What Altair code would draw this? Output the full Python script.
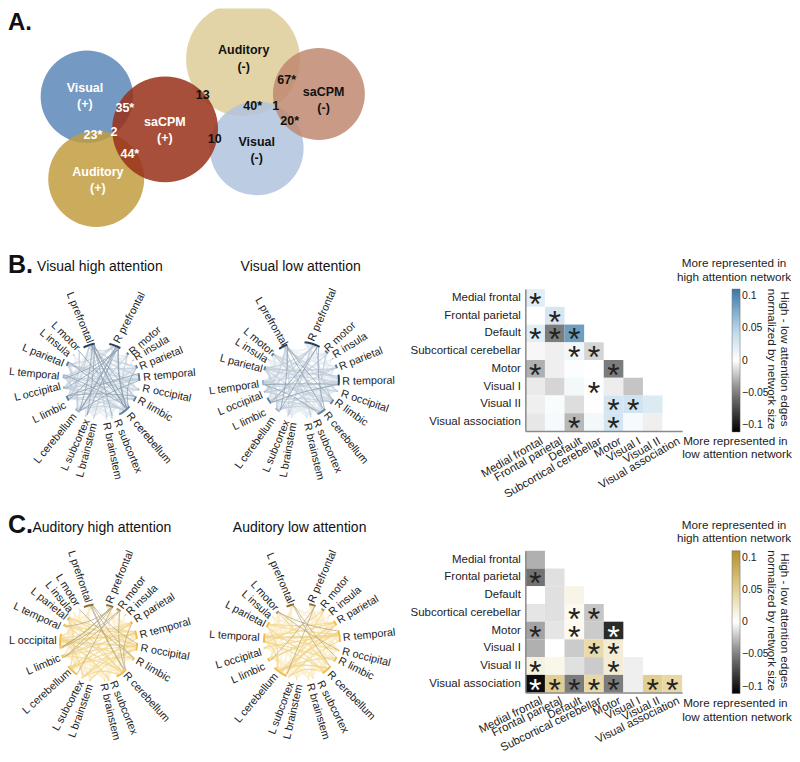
import math
import altair as alt
import pandas as pd

FONT = "Liberation Sans"
INK = "#222222"

# ---------- Venn data (panel A) ----------
venn_names = ["Auditory-", "Visual-", "saCPM-", "Visual+", "Auditory+", "saCPM+"]
venn_x = [243.3, 257, 319.3, 87, 96.3, 165.3]
venn_y = [58.7, 148, 93.7, 96.3, 178.7, 129]
venn_r = [57, 47, 46, 46.3, 48, 53]
venn_colors = ["#decd99", "#b0c3dd", "#c08870", "#5c87b7", "#c29c3f", "#993019"]

venn_text = ["Visual", "(+)", "Auditory", "(-)", "saCPM", "(-)", "saCPM", "(+)", "Visual", "(-)", "Auditory", "(+)",
             "35*", "23*", "2", "44*", "13", "10", "40*", "1", "67*", "20*"]
venn_tx = [85, 85, 244, 244, 324, 324, 165, 165, 257, 257, 98, 98,
           125, 93, 114, 130, 203, 215, 253, 276, 287, 290]
venn_ty = [87.3, 103.7, 50, 66.7, 92, 108, 122, 138, 142, 158, 172, 188,
           108, 135, 132, 154, 95, 139, 106, 106, 80, 121]
venn_tc = ["#ffffff", "#ffffff", "#111111", "#111111", "#111111", "#111111", "#ffffff", "#ffffff", "#111111", "#111111", "#ffffff", "#ffffff",
           "#ffffff", "#ffffff", "#ffffff", "#ffffff", "#111111", "#111111", "#111111", "#111111", "#111111", "#111111"]

# ---------- Heat map data ----------
networks = ["Medial frontal", "Frontal parietal", "Default", "Subcortical cerebellar",
            "Motor", "Visual I", "Visual II", "Visual association"]
tick_values = [-0.1, -0.05, 0, 0.05, 0.1]

heat_b = [
    [0.02],
    [0.0, 0.028],
    [0.02, -0.05, 0.085],
    [-0.003, -0.006, 0.01, -0.016],
    [-0.03, -0.006, 0.002, 0.0, -0.05],
    [-0.008, -0.016, 0.008, 0.002, -0.007, -0.022],
    [-0.006, 0.004, -0.013, 0.001, 0.03, 0.032, 0.024],
    [-0.009, 0.006, -0.027, 0.008, 0.03, 0.006, -0.006, 0.0],
]
star_b = [
    [1],
    [0, 1],
    [1, 1, 1],
    [0, 0, 1, 1],
    [1, 0, 0, 0, 1],
    [0, 0, 0, 1, 0, 0],
    [0, 0, 0, 0, 1, 1, 0],
    [0, 0, 1, 0, 1, 0, 0, 0],
]
heat_c = [
    [-0.03],
    [-0.055, -0.012],
    [0.0, -0.012, 0.012],
    [-0.01, -0.012, 0.007, -0.022],
    [-0.035, -0.01, 0.007, -0.02, -0.09],
    [-0.03, 0.0, -0.02, 0.04, 0.02, 0.0],
    [0.015, 0.01, -0.012, -0.02, 0.02, -0.006, 0.0],
    [-0.105, 0.052, -0.05, 0.042, -0.05, -0.006, 0.052, 0.042],
]
star_c = [
    [0],
    [1, 0],
    [0, 0, 0],
    [0, 0, 1, 1],
    [1, 0, 1, 0, 1],
    [0, 0, 0, 1, 1, 0],
    [1, 0, 0, 0, 1, 0, 0],
    [1, 1, 1, 1, 1, 0, 1, 1],
]

# ---------- Chord data ----------
nodes = ["R prefrontal", "R motor", "R insula", "R parietal", "R temporal", "R occipital", "R limbic",
         "R cerebellum", "R subcortex", "R brainstem", "L brainstem", "L subcortex", "L cerebellum",
         "L limbic", "L occipital", "L temporal", "L parietal", "L insula", "L motor", "L prefrontal"]

bh_theta = [21, 44, 57, 68, 84, 103, 118, 142, 164, 172, 192, 204, 219, 243, 260, 277, 297, 313, 323, 341]
bh_span = [18, 4, 1.5, 5, 12, 3, 8, 20, 3, 1.5, 1.5, 3, 8, 8, 4, 6, 7, 1.5, 1.5, 18]
bh_shade = [3, 2, 1, 2, 2, 1, 2, 2, 0, 0, 0, 0, 1, 2, 1, 1, 2, 1, 1, 3]
bh_near = [(350,278),(393,310),(405,325),(420,352),(430,383),(428,415),(415,450),(385,492),(350,510),(318,518),
           (283,520),(262,510),(225,495),(197,465),(182,410),(178,380),(190,342),(207,315),(235,298),(270,278)]
bh_far = [(432,122),(480,235),(512,262),(552,298),(588,368),(575,447),(520,510),(510,640),(418,672),(355,690),
          (240,682),(190,668),(108,638),(100,512),(40,445),(28,365),(65,290),(118,240),(150,212),(205,120)]

bl_theta = [17.5, 42.5, 56, 69, 90, 107, 125, 147, 165, 171, 194, 200, 218, 237, 252, 266, 288, 302, 312, 332]
bl_span = [24, 6, 1.5, 6, 16, 2, 8, 14, 2, 1.5, 1.5, 2, 8, 10, 3, 8, 6, 1.5, 5, 14]
bl_shade = [3, 2, 1, 2, 3, 1, 2, 2, 0, 0, 0, 0, 1, 2, 1, 1, 2, 1, 2, 3]
bl_near = [(305,272),(350,300),(372,318),(390,352),(398,395),(395,430),(378,455),(348,490),(318,510),(292,520),
           (252,518),(232,512),(192,505),(168,487),(158,435),(148,403),(158,358),(172,332),(188,310),(225,285)]
bl_far = [(375,112),(438,218),(473,255),(520,300),(555,392),(535,478),(475,525),(470,640),(388,668),(332,688),
          (222,682),(168,668),(88,648),(78,530),(22,490),(-5,425),(22,322),(65,265),(95,232),(135,130)]

ch_theta = [17, 31.5, 44, 59, 78, 96, 115, 143, 165, 171, 193, 205, 223, 249, 272, 297, 309, 320, 330, 345]
ch_span = [11, 7, 1.5, 5, 13, 12, 5, 18, 3, 1.5, 3, 3, 18, 5, 22, 4, 6, 1.5, 1.5, 15]
ch_shade = [3, 2, 1, 1, 1, 1, 1, 1, 0, 0, 0, 0, 1, 1, 1, 1, 1, 0, 0, 3]
ch_near = [(328,280),(362,295),(385,312),(405,332),(420,378),(422,415),(410,452),(375,492),(338,515),(310,522),
           (272,525),(245,515),(210,485),(180,445),(170,395),(180,352),(198,325),(212,305),(232,288),(265,278)]
ch_far = [(395,118),(435,200),(472,228),(525,258),(575,335),(568,442),(510,510),(505,635),(405,678),(350,692),
          (215,685),(165,665),(65,615),(75,490),(25,395),(35,285),(88,235),(135,212),(170,190),(210,115)]

cl_theta = [16, 33.5, 47, 61, 82, 104, 118, 139, 163, 170, 188, 200, 215, 241, 260, 275, 296, 310, 320, 342]
cl_span = [10, 5, 1.5, 8, 18, 2, 8, 16, 2, 1.5, 1.5, 2, 22, 5, 2, 14, 9, 1.5, 5, 12]
cl_shade = [3, 2, 1, 1, 1, 1, 1, 1, 0, 0, 0, 0, 1, 1, 1, 1, 1, 0, 2, 3]
cl_near = [(305,278),(340,292),(362,312),(385,335),(400,385),(398,425),(388,452),(358,490),(330,515),(300,522),
           (270,525),(245,518),(200,495),(165,470),(155,428),(150,385),(165,345),(182,322),(200,300),(243,280)]
cl_far = [(375,118),(415,200),(457,232),(510,262),(560,368),(545,462),(495,505),(495,630),(408,668),(350,690),
          (232,690),(185,678),(78,640),(65,515),(15,470),(-5,375),(42,280),(92,242),(122,212),(175,122)]

bh_strong = [(19,7),(19,7),(19,12),(0,12),(0,13),(0,12),(0,11),(19,6),(19,8),(0,7),(0,7),(16,7),(15,7),(13,4),(13,6),
             (0,14),(18,7),(3,7),(4,12),(0,15),(19,7),(19,11)]
bh_medium = [(19,4),(19,5),(19,13),(19,14),(0,16),(0,15),(1,7),(1,12),(3,12),(4,13),(4,14),(4,16),(5,15),(6,12),(6,13),
             (6,14),(7,12),(7,13),(7,14),(7,15),(12,16),(12,15),(13,15),(14,16),(4,15),(3,16),(19,0),(19,3),(19,9),(0,10),
             (18,13),(16,6)]
bh_light = [(0,1),(0,3),(0,4),(0,5),(0,6),(0,8),(0,9),(1,3),(1,4),(3,4),(3,5),(3,6),(4,5),(4,6),(4,7),(5,6),(5,7),(6,7),
            (7,8),(7,9),(7,10),(7,11),(8,12),(8,13),(9,12),(10,13),(11,13),(11,12),(10,12),(12,13),(12,14),(13,14),(13,16),
            (14,15),(15,16),(16,18),(16,19),(15,19),(14,19),(13,19),(12,19),(11,19),(10,19),(4,11),(4,12),(5,12),(5,13),
            (5,14),(6,15),(6,16),(3,13),(3,14),(3,15),(1,13),(1,15),(2,7),(17,7),(17,13),(8,4),(9,4),(10,4),(11,6),
            (14,4),(15,4),(16,4),(13,3),(12,3),(14,5),(15,5),(16,5)]

bl_strong = [(0,12),(19,7),(19,6),(0,13),(4,15),(4,13),(7,15),(0,7),(19,12)]
bl_medium = [(19,4),(19,8),(19,11),(19,14),(0,11),(0,14),(0,15),(0,16),(1,7),(1,13),(3,13),(3,15),(3,16),(4,14),(4,16),
             (4,12),(5,15),(6,12),(6,13),(6,15),(7,12),(7,13),(7,14),(7,16),(12,16),(12,15),(13,15),(14,16),(18,7),(18,4),
             (16,4),(15,6),(19,5),(0,6),(18,6)]
bl_light = [(0,1),(0,3),(0,4),(0,5),(0,8),(0,9),(0,10),(1,3),(1,4),(1,6),(3,4),(3,5),(3,6),(3,7),(3,12),(3,14),(4,5),(4,6),
            (4,7),(4,8),(4,9),(4,10),(4,11),(5,6),(5,7),(5,12),(6,7),(6,14),(6,16),(7,8),(7,9),(7,10),(7,11),(8,12),(8,13),
            (9,12),(10,13),(11,13),(11,12),(10,12),(12,13),(12,14),(13,14),(13,16),(14,15),(15,16),(16,18),(16,19),(15,19),
            (14,19),(13,19),(12,19),(10,19),(9,19),(18,15),(18,13),(18,12),(2,7),(17,7),(17,13),(2,15),(17,4),(19,3),(19,1),
            (19,0),(1,15),(1,16),(5,13),(5,14),(5,16),(6,18)]

ch_strong = [(0,14),(0,14),(0,13),(0,12),(19,7),(19,7),(19,6),(1,14),(1,13),(0,15),(1,7),(19,5),(3,7),(18,6)]
ch_medium = [(14,5),(14,5),(14,4),(14,4),(14,6),(14,7),(13,5),(13,4),(12,4),(12,5),(12,3),(12,16),(15,5),(15,4),(16,7),
             (16,4),(16,5),(15,7),(14,3),(14,8),(14,11),(13,7),(12,6),(4,11),(5,11),(5,10),(7,11),(3,14),(3,13),(14,16)]
ch_light = [(0,1),(0,3),(0,4),(0,5),(0,6),(0,7),(0,8),(0,10),(1,3),(1,4),(1,5),(1,6),(3,4),(3,5),(3,6),(4,5),(4,6),(4,7),
            (5,6),(5,7),(6,7),(7,8),(7,9),(7,10),(7,12),(8,12),(8,13),(9,12),(9,14),(10,13),(10,14),(11,13),(11,14),(11,12),
            (10,12),(12,13),(12,14),(12,15),(13,14),(13,16),(14,15),(15,16),(16,18),(16,19),(15,19),(14,19),(13,19),(12,19),
            (11,19),(10,19),(14,18),(14,17),(12,18),(2,7),(17,7),(17,13),(8,4),(9,4),(10,4),(11,6),(8,14),(9,5),(16,14)]

cl_strong = [(0,12),(19,7),(19,6),(18,4),(18,5),(0,13)]
cl_medium = [(15,4),(15,4),(15,4),(15,3),(15,5),(16,4),(16,3),(14,4),(13,4),(12,4),(12,4),(12,3),(12,6),(12,7),(12,7),(12,16),
             (12,15),(7,15),(7,16),(7,11),(6,15),(4,11),(3,13),(3,12),(1,15),(1,12),(18,7)]
cl_light = [(0,1),(0,3),(0,4),(0,5),(0,6),(0,7),(0,8),(0,10),(0,15),(1,3),(1,4),(1,7),(3,4),(3,5),(3,6),(3,7),(4,5),(4,6),(4,7),
            (4,8),(4,9),(5,6),(5,7),(6,7),(7,8),(7,9),(7,10),(8,12),(8,13),(9,12),(10,13),(11,13),(11,12),(10,12),(12,13),
            (12,14),(13,14),(13,16),(14,15),(15,16),(16,18),(16,19),(15,19),(14,19),(13,19),(12,19),(11,19),(10,19),(18,15),
            (18,13),(18,12),(2,7),(17,7),(17,13),(2,15),(17,4),(19,3),(19,1),(8,15),(9,15),(10,3),(11,4),(14,6),(16,5),(15,6)]

BLUE_ARC = ["#c4d5e4", "#9db6cd", "#5f80a0", "#24405c"]
BLUE_LINK = ["#e2e9f0", "#c0ccd8", "#8a9cad"]
GOLD_ARC = ["#f7dc9a", "#f2bd45", "#a9914f", "#8a7235"]
GOLD_LINK = ["#fbecc6", "#f3d68c", "#b5a679"]
LINK_W = [1.4, 1.3, 1.0]


def page(pt, ox, oy):
    return ox + pt[0] / 3, oy + pt[1] / 3


def chord(cx, cy, r, theta, span, shade, near, far, strong, medium, light, zx, zy,
          x0, y0, w, h, arc_cols, link_cols, ann):
    xe = alt.Scale(domain=[x0, x0 + w], nice=False, zero=False)
    ye = alt.Scale(domain=[y0 + h, y0], nice=False, zero=False)
    X = alt.X("x:Q", scale=xe, axis=None)
    Y = alt.Y("y:Q", scale=ye, axis=None)

    tiers = [(0, light), (1, medium), (2, strong)]
    counts = [0] * 20
    for _, ls in tiers:
        for a, b in ls:
            counts[a] += 1
            counts[b] += 1
    seen = [0] * 20

    def end(n, flip):
        k = seen[n]
        seen[n] += 1
        f = (k + 0.5) / max(counts[n], 1) - 0.5
        t = math.radians(theta[n] + (-f if flip else f) * span[n])
        return cx + r * 0.97 * math.sin(t), cy - r * 0.97 * math.cos(t)

    rows = []
    idn = 0
    for tier, ls in tiers:
        for a, b in ls:
            p0, p2 = end(a, False), end(b, True)
            mx, my = (p0[0] + p2[0]) / 2, (p0[1] + p2[1]) / 2
            c = (cx + 0.8 * (mx - cx), cy + 0.8 * (my - cy))
            for o, p in enumerate([p0, c, p2]):
                rows.append({"x": p[0], "y": p[1], "o": o, "id": idn, "c": link_cols[tier], "w": LINK_W[tier]})
            idn += 1
    links = alt.Chart(pd.DataFrame(rows)).mark_line(interpolate="basis", opacity=0.75).encode(
        x=X, y=Y, order="o:Q", detail="id:N",
        color=alt.Color("c:N", scale=None),
        strokeWidth=alt.StrokeWidth("w:Q", scale=None))

    arc_rows = []
    for n in range(20):
        for o, f in enumerate([-0.5, -0.25, 0, 0.25, 0.5]):
            t = math.radians(theta[n] + f * span[n])
            arc_rows.append({"x": cx + r * math.sin(t), "y": cy - r * math.cos(t), "o": o, "id": n, "c": arc_cols[shade[n]]})
    arcs = alt.Chart(pd.DataFrame(arc_rows)).mark_line(strokeWidth=2).encode(
        x=X, y=Y, order="o:Q", detail="id:N", color=alt.Color("c:N", scale=None))

    lab = []
    for n in range(20):
        nx, ny = page(near[n], zx, zy)
        fx, fy = page(far[n], zx, zy)
        if n < 10:
            ang = math.degrees(math.atan2(fy - ny, fx - nx))
        else:
            ang = math.degrees(math.atan2(ny - fy, nx - fx))
        lab.append({"x": nx, "y": ny, "a": ang % 360, "t": nodes[n], "side": "R" if n < 10 else "L"})
    lab = pd.DataFrame(lab)
    lr = alt.Chart(lab[lab.side == "R"]).mark_text(align="left", baseline="middle", font=FONT, fontSize=10.8, color=INK).encode(
        x=X, y=Y, text="t:N", angle=alt.Angle("a:Q", scale=None))
    ll = alt.Chart(lab[lab.side == "L"]).mark_text(align="right", baseline="middle", font=FONT, fontSize=10.8, color=INK).encode(
        x=X, y=Y, text="t:N", angle=alt.Angle("a:Q", scale=None))

    layers = [links, arcs, lr, ll]
    for a in ann:
        layers.append(alt.Chart(pd.DataFrame([a])).mark_text(
            align=a["al"], baseline=a["bl"], font=FONT, fontSize=a["fs"], fontWeight=a["fw"], color="#111111").encode(
            x=X, y=Y, text="t:N"))
    return alt.layer(*layers).properties(width=w, height=h)


def heat(values, stars, y_top, plot_h, x_extent, stops, y_text, lab_angle, lab_pad):
    rows = []
    for i, row in enumerate(values):
        for j, v in enumerate(row):
            rows.append({"r": networks[i], "c": networks[j], "v": v, "s": stars[i][j]})
    df = pd.DataFrame(rows)
    x = alt.X("c:N", sort=networks, scale=alt.Scale(domain=networks, range=[0, 157], paddingInner=0, paddingOuter=0),
              axis=alt.Axis(title=None, ticks=False, labelAngle=lab_angle, labelAlign="right", labelBaseline="top",
                            labelPadding=lab_pad, labelOffset=4, labelFont=FONT, labelFontSize=11.5, labelColor=INK, labelLimit=200,
                            labelOverlap=False, domainColor="#8a8a8a", domainWidth=1.5, grid=False,
                            minExtent=x_extent, maxExtent=x_extent))
    y = alt.Y("r:N", sort=networks, scale=alt.Scale(domain=networks, range=[y_top, y_top + 142], paddingInner=0, paddingOuter=0),
              axis=alt.Axis(title=None, ticks=False, labelPadding=5, labelFont=FONT, labelFontSize=11.5, labelColor=INK,
                            labelLimit=200, labelOverlap=False, domainColor="#8a8a8a", domainWidth=1.5, grid=False,
                            minExtent=116, maxExtent=116))
    cells = alt.Chart(df).mark_rect().encode(
        x=x, y=y,
        color=alt.Color("v:Q", scale=alt.Scale(domain=[-0.111, -0.05, 0, 0.05, 0.111], range=stops, clamp=True, interpolate="rgb"),
                        legend=alt.Legend(orient="none", legendX=207, legendY=y_top, title=None, values=tick_values,
                                          format="~g", gradientLength=143, gradientThickness=8, labelFont=FONT,
                                          labelFontSize=10.5, labelColor=INK, labelOverlap=False, labelOffset=2,
                                          gradientStrokeColor="#666666", gradientStrokeWidth=0.5, direction="vertical")))
    star_marks = alt.Chart(df[df.s == 1]).mark_text(text="*", font=FONT, fontSize=32, baseline="middle", dy=7).encode(
        x=x, y=y, color=alt.condition("datum.v < -0.08", alt.value("#ffffff"), alt.value("#222222")))
    layers = [cells, star_marks]
    notes = [("More represented in", 209, y_text[0], "center", 0),
             ("high attention network", 209, y_text[1], "center", 0),
             ("More represented in", 158, y_text[2], "left", 0),
             ("low attention network", 157, y_text[3], "left", 0),
             ("High - low attention edges", 260, y_top + 70, "center", 90),
             ("normalized by network size", 247, y_top + 70, "center", 90)]
    for t, px, py, al, ang in notes:
        layers.append(alt.Chart(alt.Data(values=[{"t": t}])).mark_text(
            align=al, baseline="middle", angle=ang, font=FONT, fontSize=11.7, color=INK).encode(
            x=alt.value(px), y=alt.value(py), text="t:N"))
    return alt.layer(*layers).properties(width=265, height=plot_h)


# ---------- Panel A ----------
xa = alt.Scale(domain=[8, 784], nice=False, zero=False)
ya = alt.Scale(domain=[248, 8], nice=False, zero=False)
venn_df = pd.DataFrame({"n": venn_names, "x": venn_x, "y": venn_y, "c": venn_colors,
                        "s": [4 * r * r for r in venn_r], "o": range(6)})
circles = alt.Chart(venn_df).mark_circle(opacity=0.85, clip=True).encode(
    x=alt.X("x:Q", scale=xa, axis=None), y=alt.Y("y:Q", scale=ya, axis=None),
    size=alt.Size("s:Q", scale=None), color=alt.Color("c:N", scale=None), order="o:Q")
vt = pd.DataFrame({"t": venn_text, "x": venn_tx, "y": venn_ty, "c": venn_tc})
vlabels = alt.Chart(vt).mark_text(font=FONT, fontSize=12.5, fontWeight="bold", baseline="middle").encode(
    x=alt.X("x:Q", scale=xa, axis=None), y=alt.Y("y:Q", scale=ya, axis=None), text="t:N",
    color=alt.Color("c:N", scale=None))
a_letter = alt.Chart(pd.DataFrame([{"t": "A.", "x": 8, "y": 30}])).mark_text(
    font=FONT, fontSize=24, fontWeight="bold", align="left", baseline="alphabetic", color="#111111", clip=True).encode(
    x=alt.X("x:Q", scale=xa, axis=None), y=alt.Y("y:Q", scale=ya, axis=None), text="t:N")
panel_a = alt.layer(circles, vlabels, a_letter).properties(width=776, height=240)


def ann(t, x, y, fs=14, fw="normal", al="center", bl="middle"):
    return {"t": t, "x": x, "y": y, "fs": fs, "fw": fw, "al": al, "bl": bl}


b1 = chord(101.5, 381, 38, bh_theta, bh_span, bh_shade, bh_near, bh_far, bh_strong, bh_medium, bh_light, 0, 250,
           8, 248, 192, 260, BLUE_ARC, BLUE_LINK,
           [ann("B.", 8, 273, 25, "bold", "left", "alphabetic"), ann("Visual high attention", 100, 267)])
b2 = chord(301.3, 380, 38, bl_theta, bl_span, bl_shade, bl_near, bl_far, bl_strong, bl_medium, bl_light, 210, 250,
           200, 248, 210, 260, BLUE_ARC, BLUE_LINK,
           [ann("Visual low attention", 301, 267)])
c1 = chord(98.7, 643, 38.5, ch_theta, ch_span, ch_shade, ch_near, ch_far, ch_strong, ch_medium, ch_light, 0, 510,
           8, 508, 192, 242, GOLD_ARC, GOLD_LINK,
           [ann("C.", 8, 533, 25, "bold", "left", "alphabetic"), ann("Auditory high attention", 102, 528)])
c2 = chord(302.3, 641.7, 38, cl_theta, cl_span, cl_shade, cl_near, cl_far, cl_strong, cl_medium, cl_light, 210, 510,
           200, 508, 210, 242, GOLD_ARC, GOLD_LINK,
           [ann("Auditory low attention", 300, 528)])

b3 = heat(heat_b, star_b, 41, 183, 77, ["#000000", "#7c7c7c", "#ffffff", "#b6d4e8", "#3a76a8"], [15, 29, 193, 206], -30, 4)
c3 = heat(heat_c, star_c, 43, 185, 57, ["#000000", "#7c7c7c", "#ffffff", "#e3d195", "#b58f2c"], [17, 30, 195, 209], -26, 2)

row_b = alt.hconcat(b1, b2, b3, spacing=0).resolve_scale(color="independent")
row_c = alt.hconcat(c1, c2, c3, spacing=0).resolve_scale(color="independent")
chart = alt.vconcat(panel_a, row_b, row_c, spacing=0).resolve_scale(color="independent").properties(padding=0).configure_view(stroke=None)

chart.save("out.html", embed_options={"renderer": "svg", "actions": False})
